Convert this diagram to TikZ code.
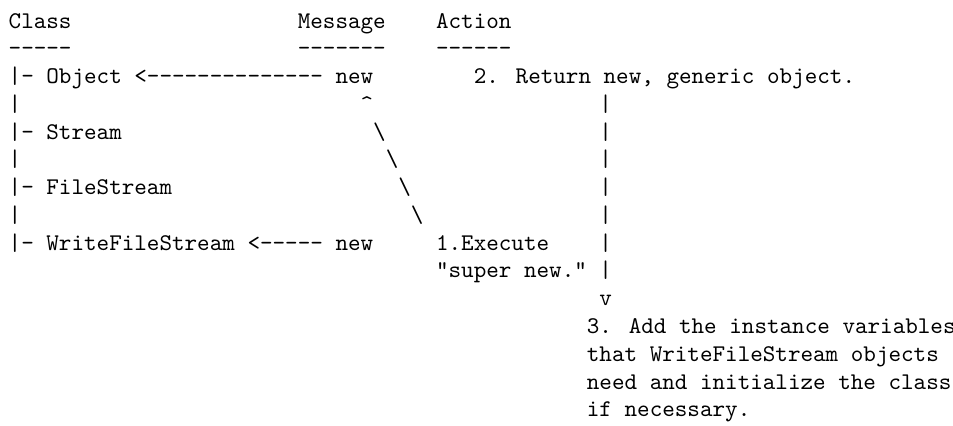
\documentclass[tikz,border=0pt]{standalone}
\usepackage{fontspec}
\begin{document}
\begin{tikzpicture}[x=5.25pt,y=-11.6pt,
  txt/.style={anchor=base west,inner sep=0pt,outer sep=0pt,
    font=\fontsize{10}{12}\selectfont\ttfamily}]
\useasboundingbox (-3.634pt,11.69pt) rectangle (394.40pt,-166.23pt);
% header
\node[txt] (hclass) at (0,0) {Class};
\node[txt] (hmsg)   at (23,0) {Message};
\node[txt] (hact)   at (34,0) {Action};
\node[txt] (uclass) at (0,1) {-----};
\node[txt] (umsg)   at (23,1) {-------};
\node[txt] (uact)   at (34,1) {------};
% row 2
\node[txt] (obj) at (0,2) {|- Object <-------------- new};
\node[txt] (ret) at (37,2) {2. Return new, generic object.};
% row 3
\node[txt] (t3) at (0,3) {|};
\node[txt] (up) at (28,3) {\textasciicircum};
\node[txt] (r3) at (47,3) {|};
% row 4
\node[txt] (stream) at (0,4) {|- Stream};
\node[txt] (d4) at (29,4) {\textbackslash};
\node[txt] (r4) at (47,4) {|};
% row 5
\node[txt] (t5) at (0,5) {|};
\node[txt] (d5) at (30,5) {\textbackslash};
\node[txt] (r5) at (47,5) {|};
% row 6
\node[txt] (fstream) at (0,6) {|- FileStream};
\node[txt] (d6) at (31,6) {\textbackslash};
\node[txt] (r6) at (47,6) {|};
% row 7
\node[txt] (t7) at (0,7) {|};
\node[txt] (d7) at (32,7) {\textbackslash};
\node[txt] (r7) at (47,7) {|};
% row 8
\node[txt] (wfs) at (0,8) {|- WriteFileStream <----- new};
\node[txt] (exec) at (34,8) {1.Execute};
\node[txt] (r8) at (47,8) {|};
% row 9
\node[txt] (supnew) at (34,9) {"super new."};
\node[txt] (r9) at (47,9) {|};
% row 10
\node[txt] (down) at (47,10) {v};
% rows 11-14
\node[txt] (a1) at (46,11) {3. Add the instance variables};
\node[txt] (a2) at (46,12) {that WriteFileStream objects};
\node[txt] (a3) at (46,13) {need and initialize the class};
\node[txt] (a4) at (46,14) {if necessary.};
\end{tikzpicture}
\end{document}
